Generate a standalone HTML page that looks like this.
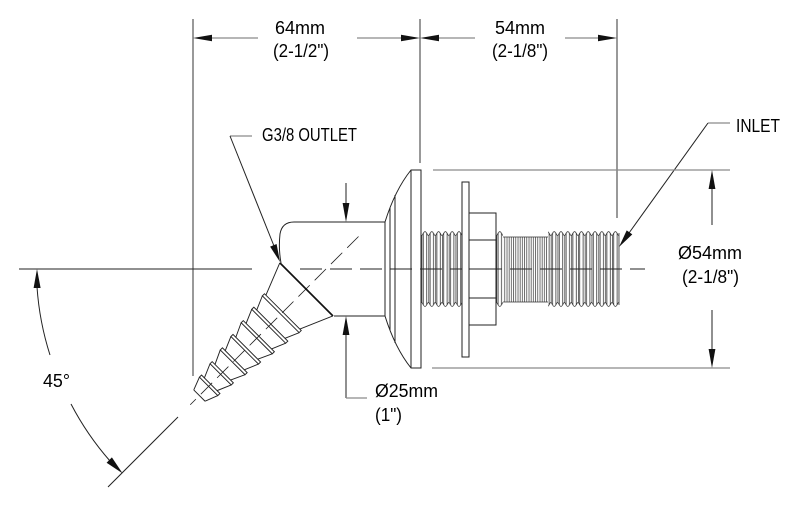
<!DOCTYPE html>
<html><head><meta charset="utf-8"><style>
html,body{margin:0;padding:0;background:#fff;}
svg{display:block;}
text{font-family:"Liberation Sans",sans-serif;font-size:18px;fill:#000;}
</style></head><body>
<svg width="800" height="506" viewBox="0 0 800 506" xmlns="http://www.w3.org/2000/svg">
<defs>
<pattern id="thr" patternUnits="userSpaceOnUse" x="0" y="231" width="6.8" height="76">
<g fill="none" stroke="#2a2a2a" stroke-width="0.75">
<path d="M0,4.5 C1.2,4.5 1.8,0.6 3.4,0.6 C5,0.6 5.6,4.5 6.8,4.5"/>
<path d="M0,71.5 C1.2,71.5 1.8,75.4 3.4,75.4 C5,75.4 5.6,71.5 6.8,71.5"/>
<line x1="1.7" y1="2" x2="1.7" y2="74"/>
<line x1="5.1" y1="2" x2="5.1" y2="74"/>
<line x1="0.3" y1="4.5" x2="0.3" y2="71.5"/>
</g>
</pattern>
<pattern id="fine" patternUnits="userSpaceOnUse" x="0" y="237" width="2.2" height="65">
<line x1="1" y1="0" x2="1" y2="65" stroke="#333" stroke-width="0.7"/>
</pattern>
</defs>
<rect width="800" height="506" fill="#fff"/>

<!-- extension lines -->
<g stroke="#333" stroke-width="1">
<line x1="193" y1="19" x2="193" y2="376"/>
<line x1="420" y1="19" x2="420" y2="163"/>
<line x1="617" y1="19" x2="617" y2="218"/>
</g>

<!-- top dimension lines -->
<g stroke="#8a8a8a" stroke-width="1.2">
<line x1="211" y1="38" x2="258" y2="38"/>
<line x1="357" y1="38" x2="402" y2="38"/>
<line x1="438" y1="38" x2="475" y2="38"/>
<line x1="565" y1="38" x2="599" y2="38"/>
</g>
<g fill="#111">
<polygon points="193,38 212,34.8 212,41.2"/>
<polygon points="420,38 401,34.8 401,41.2"/>
<polygon points="420,38 439,34.8 439,41.2"/>
<polygon points="617,38 598,34.8 598,41.2"/>
</g>
<text x="275" y="34" textLength="50" lengthAdjust="spacingAndGlyphs">64mm</text>
<text x="273" y="57" textLength="56" lengthAdjust="spacingAndGlyphs">(2-1/2")</text>
<text x="495" y="34" textLength="50" lengthAdjust="spacingAndGlyphs">54mm</text>
<text x="492" y="57" textLength="56" lengthAdjust="spacingAndGlyphs">(2-1/8")</text>

<!-- centerline -->
<g stroke="#222" stroke-width="1">
<line x1="19" y1="269" x2="252" y2="269"/>
<line x1="300" y1="269" x2="645" y2="269" stroke-dasharray="22 8"/>
</g>

<!-- angle dimension -->
<g fill="none" stroke="#222" stroke-width="1">
<path d="M37,287 A289,289 0 0 0 50,355"/>
<path d="M71,404 A289,289 0 0 0 110,461"/>
<line x1="108" y1="487" x2="178" y2="417"/>
</g>
<g fill="#111">
<polygon points="37,269 33.6,288 40.6,288"/>
<polygon points="122.6,473.4 106.6,462.8 111.9,457.4"/>
</g>
<text x="43" y="387" textLength="27" lengthAdjust="spacingAndGlyphs">45°</text>

<!-- hose barb (rotated frame) -->
<g transform="translate(326,269) rotate(135)" fill="none" stroke="#222" stroke-width="0.95">
<line x1="-46" y1="0" x2="192" y2="0" stroke-dasharray="16 7" stroke-width="0.8"/>
<path d="M28.3,37 L61,24 M28.3,-38 L61,-24"/>
<rect x="61" y="-26" width="3" height="52"/>
<rect x="78" y="-24" width="3" height="48"/>
<rect x="95" y="-22" width="3" height="44"/>
<rect x="112" y="-19.5" width="3" height="39"/>
<rect x="129" y="-17.5" width="3" height="35"/>
<rect x="146" y="-15" width="3" height="30"/>
<rect x="163" y="-13" width="3" height="26"/>
<path d="M64,26 L78,20 M64,-26 L78,-20
M81,24 L95,18 M81,-24 L95,-18
M98,22 L112,15.5 M98,-22 L112,-15.5
M115,19.5 L129,13.5 M115,-19.5 L129,-13.5
M132,17.5 L146,11 M132,-17.5 L146,-11
M149,15 L163,9 M149,-15 L163,-9
M166,13 L179,8 M166,-13 L179,-8 M179,-8 L179,8"/>
</g>

<!-- elbow body -->
<g fill="none" stroke="#222" stroke-width="1">
<path d="M281,263 C279,252 279,243 280,234 Q282,222 294,222 L385,222 L385,316 L334,316"/>
</g>
<line x1="280" y1="263" x2="333" y2="316" stroke="#111" stroke-width="1.7"/>

<!-- flange -->
<g fill="none" stroke="#222" stroke-width="1">
<path d="M385,222 Q395,190 411,170 L421,170 L421,368 L411,368 Q395,348 385,316"/>
<line x1="411" y1="170" x2="411" y2="368"/>
<line x1="390" y1="208" x2="390" y2="330"/>
<line x1="395" y1="195" x2="395" y2="343"/>
</g>

<!-- threads -->
<rect x="421" y="231" width="41" height="76" fill="url(#thr)"/>
<rect x="496" y="231" width="7" height="76" fill="url(#thr)"/>
<rect x="503" y="237" width="45" height="65" fill="url(#fine)"/>
<rect x="548" y="231" width="71" height="76" fill="url(#thr)"/>
<g stroke="#333" stroke-width="0.8" fill="none">
<line x1="503" y1="237" x2="548" y2="237"/>
<line x1="503" y1="302" x2="548" y2="302"/>
<line x1="619" y1="233" x2="619" y2="305"/>
</g>

<!-- washer and nut -->
<g fill="#fff" stroke="#222" stroke-width="1">
<rect x="462" y="182" width="7" height="175"/>
<rect x="469" y="213" width="27" height="112"/>
<line x1="469" y1="240" x2="496" y2="240"/>
<line x1="469" y1="298" x2="496" y2="298"/>
</g>
<line x1="469" y1="269" x2="496" y2="269" stroke="#222" stroke-width="1"/>

<!-- Ø25 dimension -->
<g stroke="#222" stroke-width="1">
<line x1="346" y1="183" x2="346" y2="204"/>
<line x1="346" y1="334" x2="346" y2="398"/>
</g>
<line x1="346" y1="398" x2="367" y2="398" stroke="#8a8a8a" stroke-width="1.2"/>
<g fill="#111">
<polygon points="346,222 342.6,203 349.4,203"/>
<polygon points="346,316 342.6,335 349.4,335"/>
</g>
<text x="375" y="397" textLength="63" lengthAdjust="spacingAndGlyphs">Ø25mm</text>
<text x="375" y="421" textLength="27" lengthAdjust="spacingAndGlyphs">(1")</text>

<!-- G3/8 outlet leader -->
<line x1="230" y1="136" x2="252" y2="136" stroke="#8a8a8a" stroke-width="1.2"/>
<line x1="230" y1="136" x2="274" y2="246" stroke="#222" stroke-width="1"/>
<polygon points="280,262 276.6,244 270.1,246.6" fill="#111"/>
<text x="262" y="141" textLength="95" lengthAdjust="spacingAndGlyphs">G3/8 OUTLET</text>

<!-- inlet leader -->
<line x1="708" y1="123" x2="730" y2="123" stroke="#8a8a8a" stroke-width="1.2"/>
<line x1="708" y1="123" x2="629" y2="233" stroke="#222" stroke-width="1"/>
<polygon points="619,247 632.3,234.4 626.7,230.4" fill="#111"/>
<text x="736" y="132" textLength="44" lengthAdjust="spacingAndGlyphs">INLET</text>

<!-- Ø54 dimension -->
<g stroke="#8a8a8a" stroke-width="1.2">
<line x1="433" y1="170" x2="730" y2="170"/>
<line x1="432" y1="368" x2="730" y2="368"/>
</g>
<g stroke="#222" stroke-width="1">
<line x1="712" y1="187" x2="712" y2="225"/>
<line x1="712" y1="310" x2="712" y2="351"/>
</g>
<g fill="#111">
<polygon points="712,170 708.6,189 715.4,189"/>
<polygon points="712,368 708.6,349 715.4,349"/>
</g>
<text x="678" y="259" textLength="64" lengthAdjust="spacingAndGlyphs">Ø54mm</text>
<text x="682" y="283" textLength="57" lengthAdjust="spacingAndGlyphs">(2-1/8")</text>
</svg>
</body></html>
